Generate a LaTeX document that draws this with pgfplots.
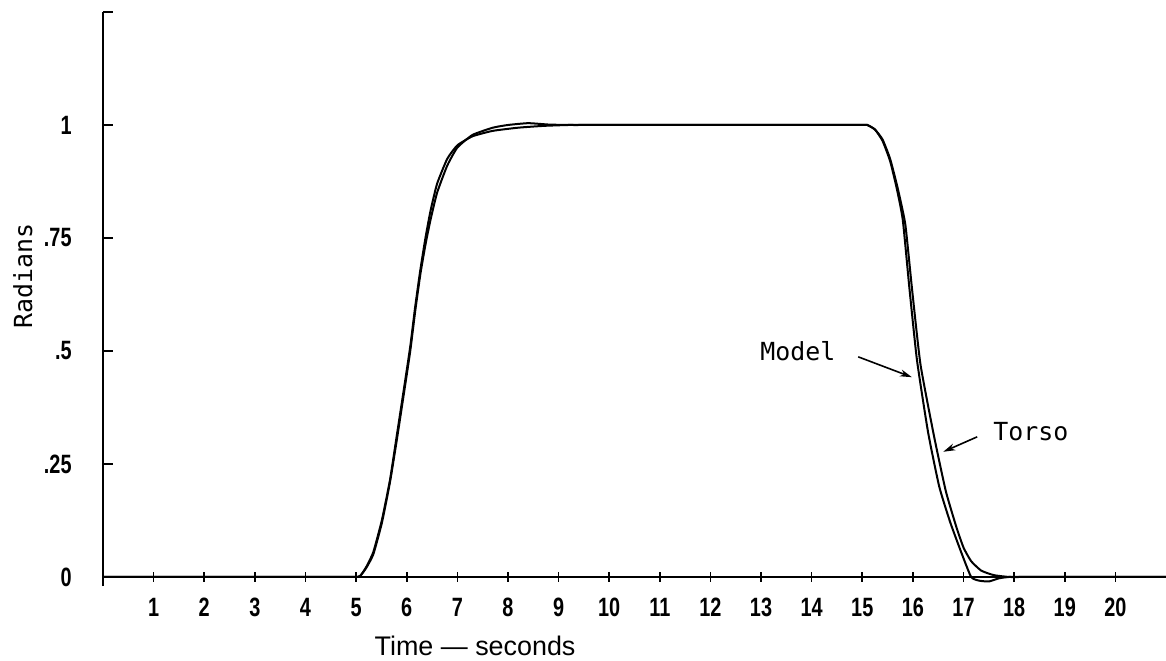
\documentclass[border=0pt]{standalone}
\usepackage{fontspec}
\setmainfont{Liberation Sans}
\newfontfamily\tickfont{Liberation Sans}[FakeStretch=0.75]
\newfontfamily\plotmono{DejaVu Sans Mono}
\usepackage{pgfplots}
\usepackage{pgfplotstable}
\pgfplotsset{compat=1.18}
\usetikzlibrary{arrows.meta}

\pgfplotstableread{
x y
0 0
1 0
2 0
3 0
4 0
4.6 0
4.9 0
5.0 0
5.08 0.002
5.2 0.022
5.34 0.055
5.51 0.126
5.67 0.215
5.80 0.31
5.95 0.42
6.07 0.51
6.17 0.60
6.27 0.68
6.37 0.75
6.47 0.81
6.6 0.87
6.8 0.925
7.0 0.955
7.3 0.975
7.7 0.987
8.2 0.994
8.7 0.998
9.2 1
9.7 1
10.5 1
11.5 1
12.5 1
13.5 1
14.3 1
14.8 1
15.0 1
15.1 1
15.25 0.99
15.4 0.965
15.55 0.92
15.68 0.86
15.8 0.79
15.93 0.64
16.08 0.48
16.3 0.32
16.52 0.20
16.74 0.12
16.97 0.05
17.15 0.0
17.3 -0.008
17.5 -0.01
17.7 -0.003
17.9 0
18.2 0
18.6 0
19.2 0
20 0
21 0
}\modeltab

\pgfplotstableread{
x y
0 0
1 0
2 0
3 0
4 0
4.6 0
4.9 0
5.0 0
5.08 0.002
5.2 0.02
5.34 0.05
5.51 0.12
5.67 0.21
5.80 0.30
5.95 0.41
6.07 0.50
6.17 0.59
6.27 0.67
6.37 0.735
6.47 0.79
6.6 0.85
6.8 0.91
7.0 0.95
7.3 0.978
7.7 0.994
8.0 1.0
8.4 1.004
8.8 1.001
9.2 1
9.7 1
10.5 1
11.5 1
12.5 1
13.5 1
14.3 1
14.8 1
15.0 1
15.1 1
15.25 0.99
15.4 0.968
15.55 0.925
15.7 0.86
15.85 0.78
15.98 0.64
16.15 0.47
16.42 0.31
16.65 0.19
16.86 0.11
17.0 0.065
17.15 0.035
17.35 0.014
17.6 0.004
17.9 0
18.2 0
18.6 0
19.2 0
20 0
21 0
}\torsotab

\begin{document}
\begin{tikzpicture}
\path[use as bounding box] (-51.5bp,-37.5bp) rectangle (531.5bp,293bp);
\begin{axis}[
  at={(0,0)}, anchor=south west,
  scale only axis, width=531.5bp, height=287bp,
  xmin=0, xmax=21, ymin=-0.02, ymax=1.25,
  axis x line*=middle, axis y line*=left,
  axis line style={line width=1bp, black},
  clip=false,
  xtick={1,2,...,20},
  xticklabels={1,2,3,4,5,6,7,8,9,10,11,12,13,14,15,16,17,18,19,20},
  ytick={0,0.25,0.5,0.75,1,1.25},
  yticklabels={0,.25,.5,.75,1,{}},
  xtick align=center, ytick align=inside,
  major tick length=5bp,
  tick style={line width=0.8bp, black},
  xticklabel style={font=\tickfont\bfseries\fontsize{13.3}{15}\selectfont, anchor=north, inner sep=0pt, yshift=-8bp},
  yticklabel style={font=\tickfont\bfseries\fontsize{13.3}{15}\selectfont, anchor=east, inner sep=0pt, xshift=-15.5bp},
]
\addplot[black, line width=1bp, smooth, tension=0.3] table[x=x,y=y] {\modeltab};
\addplot[black, line width=1bp, smooth, tension=0.3] table[x=x,y=y] {\torsotab};

\node[font=\fontsize{13.5}{16}\selectfont, anchor=center] at (axis description cs:0.35,-0.1045) {Time \textemdash\ seconds};
\node[font=\plotmono\fontsize{12.5}{15}\selectfont, rotate=90, anchor=center] at (axis description cs:-0.0753,0.54) {Radians};
\node[font=\plotmono\fontsize{12.5}{15}\selectfont, anchor=base west, inner sep=0pt] at (axis cs:12.98,0.48) {Model};
\node[font=\plotmono\fontsize{12.5}{15}\selectfont, anchor=base west, inner sep=0pt] at (axis cs:17.58,0.303) {Torso};
\draw[-{Stealth[length=6bp,width=3.5bp]}, line width=0.8bp] (axis cs:14.92,0.487) -- (axis cs:15.98,0.442);
\draw[-{Stealth[length=6bp,width=3.5bp]}, line width=0.8bp] (axis cs:17.27,0.31) -- (axis cs:16.6,0.277);
\end{axis}
\end{tikzpicture}
\end{document}
